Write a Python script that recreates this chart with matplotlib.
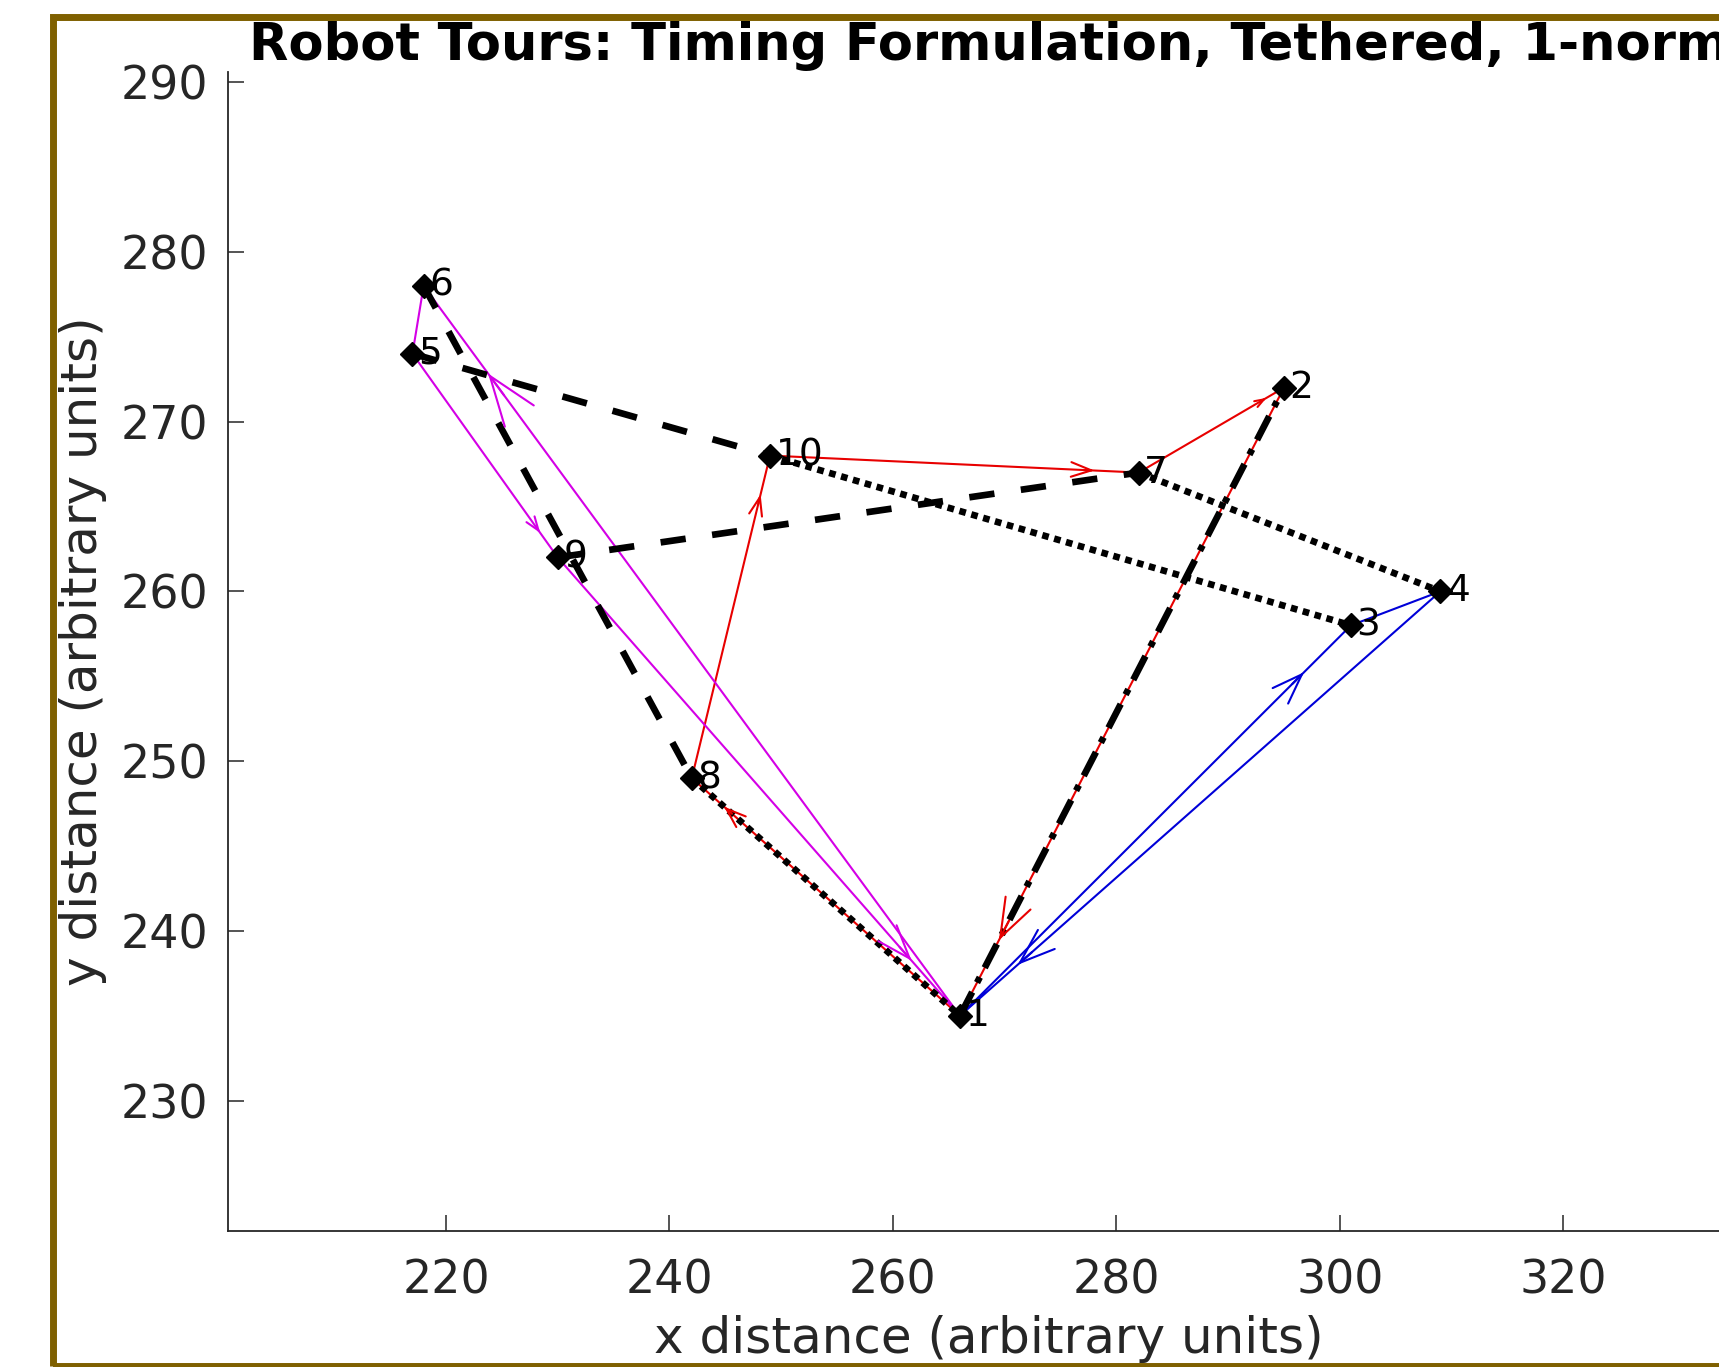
import numpy as np
import matplotlib
matplotlib.use('Agg')
import matplotlib.pyplot as plt
from matplotlib.patches import Rectangle

# ---------------- data ----------------
node_ids = [1, 2, 3, 4, 5, 6, 7, 8, 9, 10]
node_x = [266, 295, 301, 309, 217, 218, 282, 242, 230, 249]
node_y = [235, 272, 258, 260, 274, 278, 267, 249, 262, 268]

tour_red = [1, 8, 10, 7, 2, 1]
tour_blue = [1, 3, 4, 1]
tour_magenta = [1, 6, 5, 9, 1]

tether_dashed = [(5, 10), (9, 7), (6, 8)]
tether_dotted = [(10, 3), (7, 4), (8, 1)]
tether_dashdot = [(1, 2)]

xticks = [220, 240, 260, 280, 300, 320]
yticks = [230, 240, 250, 260, 270, 280, 290]

title = "Robot Tours: Timing Formulation, Tethered, 1-norm"
xlabel = "x distance (arbitrary units)"
ylabel = "y distance (arbitrary units)"

# ---------------- figure ----------------
W, H = 1719, 1367
DPI = 100
fig = plt.figure(figsize=(W / DPI, H / DPI), dpi=DPI)
fig.patch.set_facecolor('white')

ax_left, ax_right, ax_top, ax_bottom = 228, 1750, 72, 1231
ax = fig.add_axes([ax_left / W, (H - ax_bottom) / H,
                   (ax_right - ax_left) / W, (ax_bottom - ax_top) / H])
ax.set_xlim(200.49, 200.49 + (ax_right - ax_left) / 11.173)
ax.set_ylim(222.32, 222.32 + (ax_bottom - ax_top) / 16.975)


def pos(i):
    return node_x[i - 1], node_y[i - 1]


def draw_tour(tour, color):
    xs = [node_x[i - 1] for i in tour]
    ys = [node_y[i - 1] for i in tour]
    ax.plot(xs, ys, color=color, lw=1.5, zorder=2)
    for a, b in zip(tour[:-1], tour[1:]):
        x0, y0 = pos(a)
        x1, y1 = pos(b)
        p0 = ax.transData.transform((x0, y0))
        p1 = ax.transData.transform((x1, y1))
        seg_px = float(np.hypot(*(p1 - p0)))
        head_pts = 0.055 * seg_px * 72.0 / DPI
        if head_pts < 4:
            continue
        f = 0.88
        tip = (x0 + f * (x1 - x0), y0 + f * (y1 - y0))
        tail = (x0 + (f - 0.03) * (x1 - x0), y0 + (f - 0.03) * (y1 - y0))
        ax.annotate('', xy=tip, xytext=tail,
                    arrowprops=dict(arrowstyle='->,head_length=1.0,head_width=0.36',
                                    color=color, lw=1.5, shrinkA=0, shrinkB=0,
                                    mutation_scale=head_pts),
                    zorder=5)


draw_tour(tour_red, '#E80000')
draw_tour(tour_blue, '#0000D8')
draw_tour(tour_magenta, '#D400E6')

for segs, ls in [(tether_dashed, (0, (3.8, 4.0))),
                 (tether_dotted, (0, (1.0, 0.85))),
                 (tether_dashdot, (0, (4.0, 1.6, 0.9, 1.6)))]:
    for a, b in segs:
        x0, y0 = pos(a)
        x1, y1 = pos(b)
        ax.plot([x0, x1], [y0, y1], color='black', lw=4.8, linestyle=ls,
                dash_capstyle='butt', zorder=3)

ax.plot(node_x, node_y, linestyle='none', marker='D', color='black', ms=12.5, zorder=6)
for nid, x, y in zip(node_ids, node_x, node_y):
    ax.annotate(str(nid), (x, y), xytext=(4, 0), textcoords='offset points',
                ha='left', va='center', fontsize=27, color='black', zorder=7)

# ---------------- axes styling ----------------
for s in ['top', 'right']:
    ax.spines[s].set_visible(False)
for s in ['left', 'bottom']:
    ax.spines[s].set_color('#262626')
    ax.spines[s].set_linewidth(1.3)

ax.set_xticks(xticks)
ax.set_yticks(yticks)
ax.tick_params(direction='in', length=11.5, width=1.1, colors='#262626', labelsize=33)
ax.tick_params(axis='x', pad=20)
ax.tick_params(axis='y', pad=14)

ax.set_xlabel(xlabel, fontsize=36, color='#262626', labelpad=8)
ax.set_ylabel(ylabel, fontsize=36, color='#262626', labelpad=10)
ax.set_title(title, fontsize=36.8, fontweight='bold', color='black', pad=8.6)

# gold frame
fig.add_artist(Rectangle((52.5 / W, 1 - 1366 / H), (1950 - 52.5) / W, (1366 - 16.5) / H,
                         transform=fig.transFigure, fill=False,
                         edgecolor='#7F6000', linewidth=5.0, clip_on=False, zorder=10))

fig.savefig('out.png', dpi=DPI)
